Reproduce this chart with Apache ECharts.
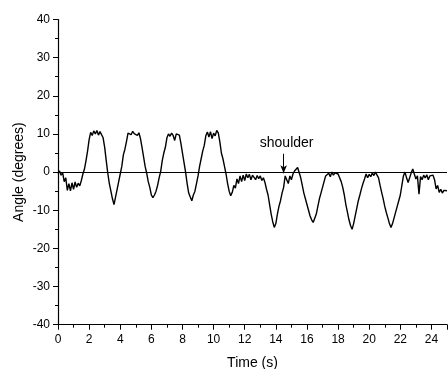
<!DOCTYPE html>
<html>
<head>
<meta charset="utf-8">
<script src="https://cdn.jsdelivr.net/npm/echarts@6/dist/echarts.min.js"></script>
<style>html,body{margin:0;padding:0;background:#fff;}#c{width:448px;height:369px;}</style>
</head>
<body>
<div id="c"></div>
<script>
const xTickLabels = ['0','2','4','6','8','10','12','14','16','18','20','22','24'];
const yTickLabels = ['-40','-30','-20','-10','0','10','20','30','40'];
const times = [
0.0,0.1,0.2,0.3,0.4,0.5,0.6,0.7,0.8,0.9,1.0,1.1,1.2,1.3,1.4,1.5,1.6,1.7,1.8,1.9,
2.0,2.1,2.2,2.3,2.4,2.5,2.6,2.7,2.8,2.9,3.0,3.1,3.2,3.3,3.4,3.5,3.6,3.7,3.8,3.9,
4.0,4.1,4.2,4.3,4.4,4.5,4.6,4.7,4.8,4.9,5.0,5.1,5.2,5.3,5.4,5.5,5.6,5.7,5.8,5.9,
6.0,6.1,6.2,6.3,6.4,6.5,6.6,6.7,6.8,6.9,7.0,7.1,7.2,7.3,7.4,7.5,7.6,7.7,7.8,7.9,
8.0,8.1,8.2,8.3,8.4,8.5,8.6,8.7,8.8,8.9,9.0,9.1,9.2,9.3,9.4,9.5,9.6,9.7,9.8,9.9,
10.0,10.1,10.2,10.3,10.4,10.5,10.6,10.7,10.8,10.9,11.0,11.1,11.2,11.3,11.4,11.5,11.6,11.7,11.8,11.9,
12.0,12.1,12.2,12.3,12.4,12.5,12.6,12.7,12.8,12.9,13.0,13.1,13.2,13.3,13.4,13.5,13.6,13.7,13.8,13.9,
14.0,14.1,14.2,14.3,14.4,14.5,14.6,14.7,14.8,14.9,15.0,15.1,15.2,15.3,15.4,15.5,15.6,15.7,15.8,15.9,
16.0,16.1,16.2,16.3,16.4,16.5,16.6,16.7,16.8,16.9,17.0,17.1,17.2,17.3,17.4,17.5,17.6,17.7,17.8,17.9,
18.0,18.1,18.2,18.3,18.4,18.5,18.6,18.7,18.8,18.9,19.0,19.1,19.2,19.3,19.4,19.5,19.6,19.7,19.8,19.9,
20.0,20.1,20.2,20.3,20.4,20.5,20.6,20.7,20.8,20.9,21.0,21.1,21.2,21.3,21.4,21.5,21.6,21.7,21.8,21.9,
22.0,22.1,22.2,22.3,22.4,22.5,22.6,22.7,22.8,22.9,23.0,23.1,23.2,23.3,23.4,23.5,23.6,23.7,23.8,23.9,
24.0,24.1,24.2,24.3,24.4,24.5,24.6,24.7,24.8,24.9,25.0
];
const angles = [
-0.4,0.3,-0.8,-0.2,-2.5,-1.5,-4.8,-3.0,-4.9,-2.8,-4.5,-2.6,-4.0,-2.9,-3.6,-2.2,-0.5,0.8,3.0,5.5,
8.5,10.4,9.6,10.8,10.0,10.9,9.7,10.6,10.2,9.0,6.5,3.0,-0.3,-3.0,-5.0,-7.0,-8.5,-6.5,-4.5,-2.5,
-0.5,1.5,4.5,6.0,8.0,10.2,10.6,9.8,10.7,10.1,10.5,9.6,10.3,8.8,6.5,4.0,1.5,-0.3,-2.5,-4.0,
-6.0,-6.7,-6.0,-5.0,-3.5,-1.5,0.2,3.0,5.0,6.5,9.0,10.0,9.4,10.2,9.6,8.3,10.0,9.5,9.7,7.5,
5.0,2.5,0.0,-3.0,-5.5,-6.5,-7.5,-6.0,-5.0,-3.0,-1.0,1.5,3.5,5.5,7.0,9.5,10.5,9.2,10.6,8.8,
10.2,9.5,10.9,10.3,8.0,5.0,3.5,1.5,-0.5,-3.0,-5.0,-6.2,-5.3,-3.5,-4.2,-1.8,-3.0,-1.0,-2.5,-0.8,
-2.2,-0.5,-1.5,-0.6,-2.0,-0.8,-1.0,-2.0,-0.9,-1.7,-1.0,-2.2,-1.5,-2.7,-4.5,-6.0,-8.5,-11.0,-13.0,-14.5,
-13.5,-11.0,-9.0,-7.5,-5.5,-4.0,-1.0,-1.5,-3.0,-1.0,-2.0,-0.5,0.3,0.0,1.2,0.8,-1.5,-3.5,-5.5,-7.0,
-8.5,-10.0,-11.5,-12.5,-13.2,-12.8,-11.0,-9.0,-7.0,-5.5,-4.0,-2.5,-1.0,-1.5,-0.3,-1.2,0.0,-0.8,-0.2,0.2,
-0.5,-1.0,-2.5,-4.0,-6.0,-8.5,-10.5,-12.5,-14.0,-15.0,-13.5,-11.5,-9.5,-7.5,-6.0,-4.4,-3.0,-1.8,-0.5,-1.5,
-0.6,-1.2,-0.2,-0.9,0.0,0.4,-1.5,-3.5,-5.3,-7.0,-9.0,-10.6,-12.0,-13.5,-14.5,-13.5,-12.0,-10.5,-9.0,-7.5,
-6.0,-3.5,-1.0,0.0,-1.5,-2.7,-1.5,-0.2,0.8,-0.5,-1.8,-1.0,-5.8,-1.2,-2.0,-0.8,-1.5,-0.7,-2.0,-1.0,
-1.5,-0.8,-2.0,-4.4,-3.5,-5.3,-4.5,-5.5,-4.8,-5.2,-4.9
];
const annotationText = 'shoulder';
const annotationFrom = [14.5, 4.8];
const annotationTo = [14.5, -0.3];

const chart = echarts.init(document.getElementById('c'), null, {renderer: 'canvas'});
const FONT = 'Liberation Sans, Arial, sans-serif';
chart.setOption({
  animation: false,
  backgroundColor: '#fff',
  grid: {left: 58, right: 1, top: 19.5, bottom: 44.3, containLabel: false, outerBoundsMode: 'none'},
  xAxis: {
    type: 'value', min: 0, max: 25, interval: 2,
    name: 'Time (s)', nameLocation: 'middle', nameGap: 31, nameMoveOverlap: false,
    nameTextStyle: {fontFamily: FONT, fontSize: 14, color: '#000'},
    axisLine: {show: true, onZero: false, lineStyle: {color: '#000', width: 1.2}},
    axisTick: {show: true, length: 5, lineStyle: {color: '#000', width: 1}},
    minorTick: {show: true, splitNumber: 2, length: 3, lineStyle: {color: '#000', width: 1}},
    axisLabel: {fontFamily: FONT, fontSize: 12, color: '#000', margin: 9, showMaxLabel: false,
      formatter: v => xTickLabels.includes(String(v)) ? String(v) : ''},
    splitLine: {show: false}
  },
  yAxis: {
    type: 'value', min: -40, max: 40, interval: 10,
    name: 'Angle (degrees)', nameLocation: 'middle', nameGap: 32, nameMoveOverlap: false,
    nameTextStyle: {fontFamily: FONT, fontSize: 14, color: '#000'},
    axisLine: {show: true, onZero: false, lineStyle: {color: '#000', width: 1.2}},
    axisTick: {show: true, length: 5, lineStyle: {color: '#000', width: 1}},
    minorTick: {show: true, splitNumber: 2, length: 3, lineStyle: {color: '#000', width: 1}},
    axisLabel: {fontFamily: FONT, fontSize: 12, color: '#000', margin: 8,
      formatter: v => yTickLabels.includes(String(v)) ? String(v) : ''},
    splitLine: {show: false}
  },
  series: [{
    type: 'line',
    data: times.map((t, i) => [t, angles[i]]),
    showSymbol: false, symbol: 'none',
    lineStyle: {color: '#000', width: 1.4},
    clip: true,
    markLine: {
      silent: true, animation: false,
      symbol: 'none',
      data: [
        [{xAxis: 0, yAxis: 0, lineStyle: {color: '#000', width: 1.2, type: 'solid'}, label: {show: false}},
         {xAxis: 25, yAxis: 0}],
        [{coord: annotationFrom, symbol: 'none', lineStyle: {color: '#000', width: 1, type: 'solid'},
          label: {show: true, position: 'start', formatter: annotationText, fontFamily: FONT, fontSize: 14, color: '#000', distance: 4, offset: [3, 0]}},
         {coord: annotationTo, symbol: 'arrow', symbolSize: [5, 8]}]
      ]
    }
  }]
});
</script>
</body>
</html>
